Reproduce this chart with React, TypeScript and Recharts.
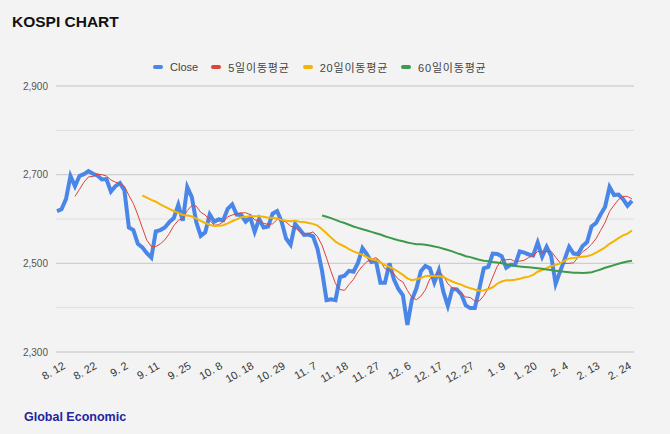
import { LineChart, Line, XAxis, YAxis, CartesianGrid, ReferenceLine } from "recharts";

const FONT = "Arial, 'Liberation Sans', 'Noto Sans CJK KR', sans-serif";

// trading days, 2024-08-12 .. 2025-02-26
const DATES = [
  "8. 12", "8. 13", "8. 14", "8. 16", "8. 19", "8. 20", "8. 21", "8. 22", "8. 23", "8. 26",
  "8. 27", "8. 28", "8. 29", "8. 30", "9. 2", "9. 3", "9. 4", "9. 5", "9. 6", "9. 9",
  "9. 10", "9. 11", "9. 12", "9. 13", "9. 19", "9. 20", "9. 23", "9. 24", "9. 25", "9. 26",
  "9. 27", "9. 30", "10. 2", "10. 4", "10. 7", "10. 8", "10. 10", "10. 11", "10. 14", "10. 15",
  "10. 16", "10. 17", "10. 18", "10. 21", "10. 22", "10. 23", "10. 24", "10. 25", "10. 28", "10. 29",
  "10. 30", "10. 31", "11. 1", "11. 4", "11. 5", "11. 6", "11. 7", "11. 8", "11. 11", "11. 12",
  "11. 13", "11. 14", "11. 15", "11. 18", "11. 19", "11. 20", "11. 21", "11. 22", "11. 25", "11. 26",
  "11. 27", "11. 28", "11. 29", "12. 2", "12. 3", "12. 4", "12. 5", "12. 6", "12. 9", "12. 10",
  "12. 11", "12. 12", "12. 13", "12. 16", "12. 17", "12. 18", "12. 19", "12. 20", "12. 23", "12. 24",
  "12. 26", "12. 27", "12. 30", "1. 2", "1. 3", "1. 6", "1. 7", "1. 8", "1. 9", "1. 10",
  "1. 13", "1. 14", "1. 15", "1. 16", "1. 17", "1. 20", "1. 21", "1. 22", "1. 23", "1. 24",
  "1. 31", "2. 3", "2. 4", "2. 5", "2. 6", "2. 7", "2. 10", "2. 11", "2. 12", "2. 13",
  "2. 14", "2. 17", "2. 18", "2. 19", "2. 20", "2. 21", "2. 24", "2. 25", "2. 26",
];

const CLOSE = [
  2618, 2622, 2645, 2697, 2674, 2697, 2701, 2708, 2702, 2698,
  2689, 2690, 2662, 2674, 2681, 2665, 2581, 2575, 2544, 2536,
  2523, 2513, 2572, 2575, 2581, 2593, 2602, 2632, 2596, 2672,
  2650, 2593, 2562, 2570, 2610, 2594, 2599, 2597, 2623, 2633,
  2610, 2609, 2594, 2604, 2571, 2600, 2581, 2583, 2612, 2618,
  2594, 2556, 2542, 2589, 2577, 2564, 2565, 2561, 2532, 2483,
  2417, 2419, 2417, 2469, 2472, 2483, 2481, 2501, 2534, 2520,
  2503, 2505, 2456, 2456, 2500, 2464, 2442, 2428, 2361, 2418,
  2443, 2482, 2494, 2489, 2457, 2484, 2436, 2404, 2442, 2441,
  2430, 2405, 2399, 2399, 2442, 2489, 2492, 2522, 2521, 2516,
  2490, 2497, 2497, 2527, 2524, 2520, 2518, 2547, 2515, 2537,
  2517, 2454, 2482, 2509, 2537, 2522, 2521, 2539, 2548, 2583,
  2591, 2610, 2627, 2672, 2654, 2655, 2645, 2630, 2641,
];

// moving averages start at these day indexes
const MA5_START = 4;
const MA5 = [
  2651, 2667, 2683, 2695, 2696, 2701, 2700, 2697, 2688, 2683,
  2679, 2674, 2653, 2635, 2609, 2580, 2552, 2538, 2538, 2544,
  2553, 2567, 2585, 2597, 2601, 2619, 2630, 2629, 2615, 2609,
  2597, 2586, 2587, 2594, 2605, 2609, 2612, 2614, 2614, 2610,
  2598, 2596, 2590, 2588, 2589, 2599, 2598, 2593, 2584, 2580,
  2572, 2566, 2567, 2571, 2560, 2541, 2512, 2482, 2454, 2441,
  2439, 2452, 2464, 2481, 2494, 2504, 2508, 2513, 2504, 2488,
  2484, 2476, 2464, 2458, 2439, 2423, 2418, 2426, 2440, 2465,
  2473, 2481, 2472, 2454, 2445, 2441, 2431, 2424, 2423, 2415,
  2415, 2427, 2444, 2469, 2493, 2508, 2508, 2509, 2504, 2505,
  2507, 2513, 2517, 2527, 2525, 2527, 2527, 2514, 2501, 2500,
  2500, 2501, 2514, 2526, 2533, 2543, 2556, 2574, 2592, 2617,
  2631, 2644, 2651, 2651, 2645,
];

const MA20_START = 19;
const MA20 = [
  2653, 2648, 2643, 2639, 2633, 2628, 2623, 2618, 2614, 2609,
  2608, 2606, 2601, 2596, 2591, 2587, 2584, 2585, 2586, 2590,
  2595, 2599, 2604, 2605, 2606, 2606, 2606, 2605, 2603, 2603,
  2601, 2598, 2596, 2595, 2596, 2594, 2593, 2591, 2589, 2585,
  2577, 2568, 2558, 2549, 2543, 2538, 2532, 2527, 2523, 2519,
  2514, 2509, 2507, 2502, 2496, 2492, 2487, 2481, 2474, 2466,
  2462, 2464, 2467, 2471, 2472, 2471, 2471, 2469, 2464, 2459,
  2455, 2452, 2447, 2444, 2441, 2438, 2439, 2442, 2446, 2454,
  2459, 2462, 2462, 2463, 2465, 2468, 2470, 2474, 2481, 2485,
  2489, 2494, 2496, 2500, 2506, 2511, 2512, 2514, 2515, 2516,
  2519, 2524, 2530, 2536, 2544, 2550, 2557, 2563, 2567, 2574,
];

const MA60_START = 59;
const MA60 = [
  2608, 2605, 2602, 2598, 2594, 2591, 2587, 2583, 2580, 2577,
  2574, 2571, 2568, 2565, 2561, 2558, 2555, 2552, 2550, 2547,
  2545, 2543, 2543, 2542, 2540, 2538, 2536, 2533, 2530, 2527,
  2523, 2520, 2516, 2514, 2511, 2508, 2506, 2505, 2503, 2502,
  2500, 2498, 2496, 2494, 2493, 2492, 2491, 2490, 2489, 2488,
  2486, 2485, 2483, 2482, 2481, 2480, 2479, 2479, 2478, 2479,
  2480, 2483, 2486, 2490, 2493, 2496, 2499, 2502, 2504, 2506,
];

const TICK_LABELS = [
  "8. 12", "8. 22", "9. 2", "9. 11", "9. 25", "10. 8", "10. 18", "10. 29", "11. 7", "11. 18",
  "11. 27", "12. 6", "12. 17", "12. 27", "1. 9", "1. 20", "2. 4", "2. 13", "2. 24",
];

const Y_TICKS = [2300, 2400, 2500, 2600, 2700, 2800, 2900];
const Y_MAJOR = [2300, 2500, 2700, 2900];

const SERIES = [
  { key: "close", name: "Close", color: "#4a86e8", width: 4 },
  { key: "ma5", name: "5일이동평균", color: "#db4437", width: 1 },
  { key: "ma20", name: "20일이동평균", color: "#f4b400", width: 2 },
  { key: "ma60", name: "60일이동평균", color: "#3d9a4a", width: 2 },
];

const rows = DATES.map((date, i) => ({
  date,
  close: CLOSE[i],
  ma5: i >= MA5_START ? MA5[i - MA5_START] : null,
  ma20: i >= MA20_START ? MA20[i - MA20_START] : null,
  ma60: i >= MA60_START ? MA60[i - MA60_START] : null,
}));

function DateTick({ x, y, payload }: { x: number; y: number; payload: { value: string } }) {
  return (
    <text
      transform={`translate(${x + 9},${y + 16}) rotate(-30)`}
      textAnchor="end"
      fontSize={11}
      fill="#333"
      fontFamily={FONT}
    >
      {payload.value}
    </text>
  );
}

export default function App() {
  return (
    <div
      style={{
        position: "absolute",
        left: 0,
        top: 0,
        width: 670,
        height: 434,
        background: "#f3f3f3",
        fontFamily: FONT,
        overflow: "hidden",
      }}
    >
      <div style={{ position: "absolute", left: 12, top: 13, fontSize: 15.5, fontWeight: 700, color: "#111" }}>
        KOSPI CHART
      </div>

      <div
        style={{
          position: "absolute",
          left: 153,
          top: 59,
          display: "flex",
          alignItems: "center",
          fontSize: 11,
          color: "#444",
          whiteSpace: "nowrap",
        }}
      >
        {SERIES.map((s) => (
          <div key={s.key} style={{ display: "flex", alignItems: "center", marginRight: 13 }}>
            <span
              style={{ display: "inline-block", width: 10, height: 4, borderRadius: 2, background: s.color, marginRight: 7 }}
            />
            <span style={{ letterSpacing: s.key === "close" ? 0 : 0.8 }}>{s.name}</span>
          </div>
        ))}
      </div>

      <div style={{ position: "absolute", left: 0, top: 0 }}>
        <LineChart width={670} height={434} data={rows} margin={{ top: 86, right: 36, bottom: 52, left: 0 }}>
          <CartesianGrid vertical={false} stroke="#dedede" />
          {Y_MAJOR.map((v) => (
            <ReferenceLine key={v} y={v} stroke="#cccccc" />
          ))}
          <XAxis
            dataKey="date"
            type="category"
            ticks={TICK_LABELS}
            interval={0}
            height={30}
            axisLine={false}
            tickLine={false}
            tickSize={0}
            tickMargin={0}
            padding={{ left: 1, right: 2 }}
            tick={DateTick}
          />
          <YAxis
            domain={[2300, 2900]}
            ticks={Y_TICKS}
            width={56}
            axisLine={false}
            tickLine={false}
            tickSize={0}
            tickMargin={8}
            tick={{ fontSize: 10, fill: "#555", fontFamily: FONT }}
            tickFormatter={(v: number) => (Y_MAJOR.includes(v) ? v.toLocaleString("en-US") : "")}
          />
          {SERIES.map((s) => (
            <Line
              key={s.key}
              dataKey={s.key}
              name={s.name}
              stroke={s.color}
              strokeWidth={s.width}
              dot={false}
              type="linear"
              isAnimationActive={false}
              connectNulls={false}
            />
          ))}
        </LineChart>
      </div>

      <div style={{ position: "absolute", left: 24, top: 410, fontSize: 12.5, fontWeight: 700, color: "#2424a0" }}>
        Global Economic
      </div>
    </div>
  );
}
